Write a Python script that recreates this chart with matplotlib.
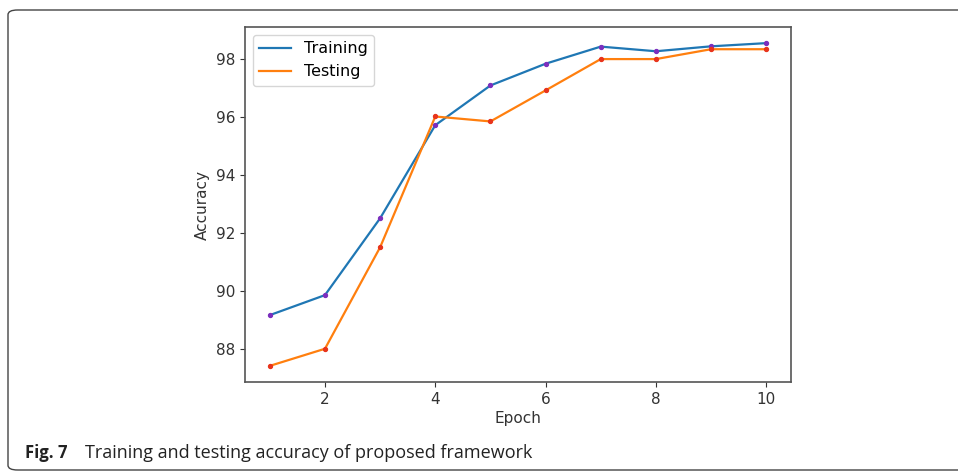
import matplotlib.pyplot as plt
from matplotlib.patches import FancyBboxPatch

plt.rcParams['font.family'] = 'DejaVu Sans'

# values
epochs = [1, 2, 3, 4, 5, 6, 7, 8, 9, 10]
train_acc = [89.18, 89.87, 92.52, 95.73, 97.10, 97.85, 98.44, 98.28, 98.45, 98.56]
test_acc = [87.43, 88.02, 91.52, 96.03, 95.86, 96.93, 98.01, 98.01, 98.35, 98.35]

fig = plt.figure(figsize=(9.58, 4.71), dpi=100)

# rounded frame of the journal figure box (open on the right)
frame = FancyBboxPatch((8 / 958, 1 / 471), 1.2, 460 / 471,
                       boxstyle='round,pad=0,rounding_size=0.01',
                       transform=fig.transFigure, fill=False,
                       edgecolor='#444444', linewidth=1.0, clip_on=False)
fig.patches.append(frame)

ax = fig.add_axes([245 / 958, 1 - 382 / 471, 546 / 958, 355 / 471])

ax.plot(epochs, train_acc, color='#1f77b4', linewidth=1.6, label='Training')
ax.plot(epochs, test_acc, color='#ff7f0e', linewidth=1.6, label='Testing')
ax.scatter(epochs, train_acc, color='#7b2fbe', s=8, zorder=3)
ax.scatter(epochs, test_acc, color='#e8341c', s=8, zorder=3)

ax.set_xticks([2, 4, 6, 8, 10])
ax.set_yticks([88, 90, 92, 94, 96, 98])
ax.tick_params(labelsize=11, colors='#333333')
for s in ax.spines.values():
    s.set_color('#555555')
    s.set_linewidth(1.2)

ax.set_xlabel('Epoch', fontsize=11, color='#333333', labelpad=3)
ax.set_ylabel('Accuracy', fontsize=11, color='#333333')
ax.legend(loc='upper left', fontsize=11.5)

fig.text(25 / 958, 1 - 453 / 471, 'Fig. 7', fontsize=12, fontweight='bold',
         family='Open Sans', va='center', color='#222222')
fig.text(85 / 958, 1 - 453 / 471, 'Training and testing accuracy of proposed framework',
         fontsize=13, family='Open Sans', va='center', color='#222222')

fig.savefig('out.png', dpi=100)
